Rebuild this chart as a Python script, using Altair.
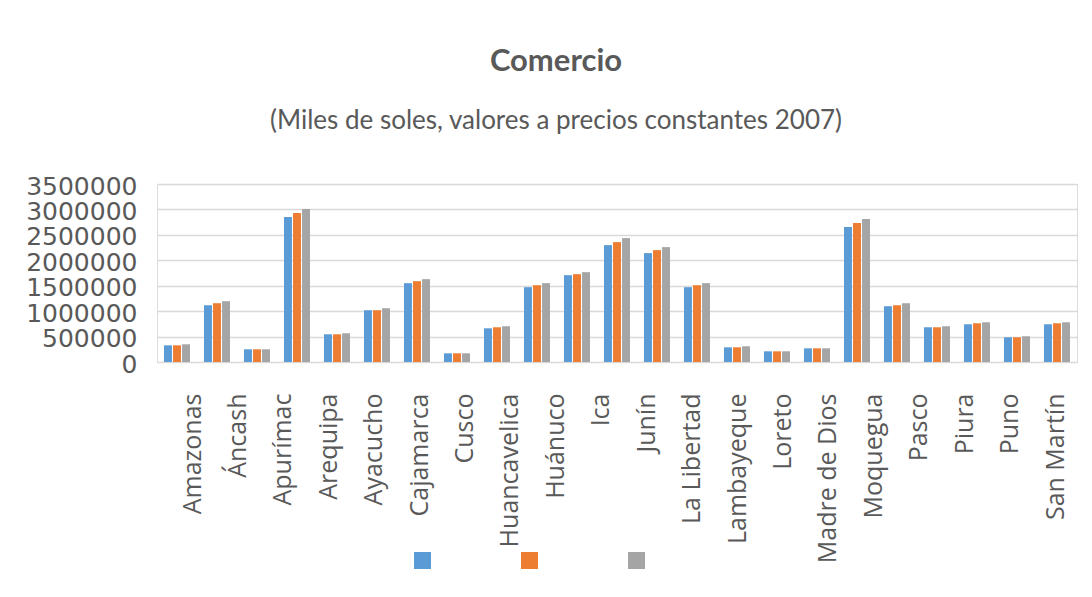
import altair as alt
import pandas as pd

# 23 departamentos (bar groups); the reference only prints the first 20 names
departamentos = ["Amazonas", "Áncash", "Apurímac", "Arequipa", "Ayacucho", "Cajamarca",
                 "Cusco", "Huancavelica", "Huánuco", "Ica", "Junín", "La Libertad",
                 "Lambayeque", "Loreto", "Madre de Dios", "Moquegua", "Pasco", "Piura",
                 "Puno", "San Martín", "Tacna", "Tumbes", "Ucayali"]
serie_1 = [328000, 1116000, 250000, 2850000, 545000, 1018000, 1550000, 171000, 663000,
           1471000, 1707000, 2298000, 2141000, 1471000, 289000, 210000, 269000, 2653000,
           1097000, 683000, 742000, 486000, 742000]
serie_2 = [328000, 1156000, 250000, 2929000, 545000, 1018000, 1589000, 171000, 683000,
           1510000, 1727000, 2357000, 2200000, 1510000, 289000, 210000, 269000, 2732000,
           1116000, 683000, 762000, 486000, 762000]
serie_3 = [348000, 1195000, 250000, 3008000, 565000, 1057000, 1629000, 171000, 703000,
           1550000, 1766000, 2436000, 2259000, 1550000, 309000, 210000, 269000, 2810000,
           1156000, 703000, 781000, 506000, 781000]
series = ["Serie 1", "Serie 2", "Serie 3"]
colores = ["#5B9BD5", "#ED7D31", "#A5A5A5"]
etiquetas = ["Amazonas", "Áncash", "Apurímac", "Arequipa", "Ayacucho", "Cajamarca",
             "Cusco", "Huancavelica", "Huánuco", "Ica", "Junín", "La Libertad",
             "Lambayeque", "Loreto", "Madre de Dios", "Moquegua", "Pasco", "Piura",
             "Puno", "San Martín"]
y_ticks = [0, 500000, 1000000, 1500000, 2000000, 2500000, 3000000, 3500000]

rows = []
for s, vals in zip(series, [serie_1, serie_2, serie_3]):
    for d, v in zip(departamentos, vals):
        rows.append({"Departamento": d, "Serie": s, "Valor": v})
df = pd.DataFrame(rows)
df_lab = pd.DataFrame({"Etiqueta": etiquetas})

FONT = "Open Sans"
GREY = "#595959"

bars = alt.Chart(df).mark_bar().encode(
    x=alt.X("Departamento:N", sort=departamentos, axis=None,
            scale=alt.Scale(paddingInner=0.35, paddingOuter=0.175)),
    xOffset=alt.XOffset("Serie:N", sort=series, scale=alt.Scale(paddingInner=0.12)),
    y=alt.Y("Valor:Q", scale=alt.Scale(domain=[0, 3500000], nice=False),
            axis=alt.Axis(values=y_ticks, format="d", title=None, grid=True,
                          gridColor="#d9d9d9", gridWidth=1.3, domain=False, ticks=False,
                          labelFontSize=25, labelColor=GREY, labelFont="DejaVu Sans",
                          labelPadding=20, labelOverlap=False, labelFlush=False,
                          labelOffset=2)),
    color=alt.Color("Serie:N", sort=series,
                    scale=alt.Scale(domain=series, range=colores),
                    legend=alt.Legend(title=None, orient="none", direction="horizontal",
                                      legendX=257, legendY=368, labelExpr="''",
                                      symbolType="square", symbolSize=289,
                                      symbolStrokeWidth=0, labelOffset=0,
                                      columnPadding=90, padding=0)),
)

labels = alt.Chart(df_lab).mark_point(opacity=0).encode(
    x=alt.X("Etiqueta:N", sort=etiquetas,
            scale=alt.Scale(type="point", range=[35, 898], padding=0),
            axis=alt.Axis(title=None, orient="bottom", labelAngle=270, labelAlign="right",
                          labelBaseline="middle", ticks=False, domain=False, grid=False,
                          labelFontSize=25, labelFont=FONT, labelColor=GREY,
                          labelPadding=31, labelOverlap=False)),
    y=alt.value(0),
)

chart = alt.layer(bars, labels).resolve_scale(x="independent").resolve_axis(
    x="independent"
).properties(
    width=920,
    height=178,
    autosize=alt.AutoSizeParams(type="none"),
    padding={"left": 149, "top": 176, "right": 7, "bottom": 227},
    title=alt.TitleParams(
        "Comercio",
        subtitle="(Miles de soles, valores  a precios constantes 2007)",
        font="Lato", fontSize=31, fontWeight="bold", color=GREY,
        subtitleFont="Lato", subtitleFontSize=26, subtitleColor=GREY,
        subtitlePadding=30, anchor="middle", dx=-61, offset=39,
    ),
).configure_view(strokeOpacity=0).configure(background="white")

chart.save("out.html", embed_options={"renderer": "svg", "actions": False})
